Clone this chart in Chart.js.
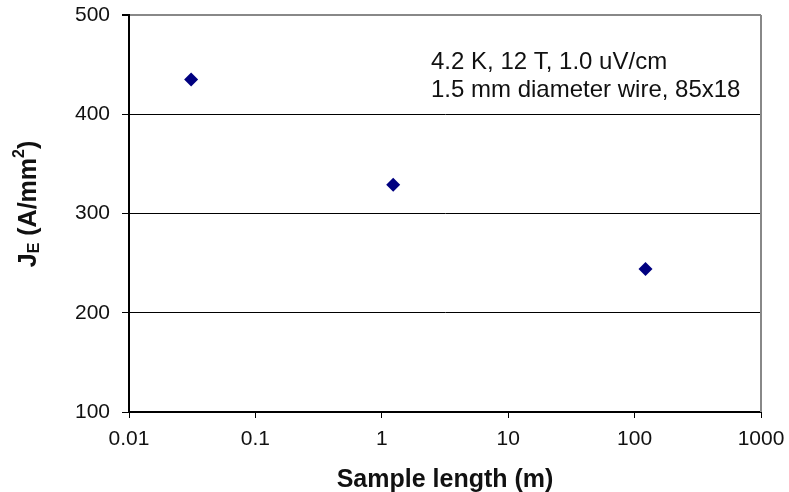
<!DOCTYPE html>
<html>
<head>
<meta charset="utf-8">
<script src="https://cdn.jsdelivr.net/npm/chart.js@4/dist/chart.umd.min.js"></script>
<style>
  html, body { margin: 0; padding: 0; background: #fff; }
  #wrap { width: 789px; height: 492px; }
</style>
</head>
<body>
<div id="wrap"><canvas id="chart" width="789" height="492"></canvas></div>
<script>
// sample length (m) vs engineering current density
const sampleLength = [0.031, 1.23, 122];
const jeValues = [435, 329, 244];

const xTicks = [0.01, 0.1, 1, 10, 100, 1000];
const yTicks = [100, 200, 300, 400, 500];

const noteLines = ['4.2 K, 12 T, 1.0 uV/cm', '1.5 mm diameter wire, 85x18'];
const xTitle = 'Sample length (m)';

const FONT = 'Liberation Sans, Arial, sans-serif';

// titles, note text and the grey right edge of the plot box
const extras = {
  id: 'extras',
  afterDraw(chart) {
    const { ctx, chartArea } = chart;
    ctx.save();

    // right border
    ctx.strokeStyle = '#888';
    ctx.lineWidth = 2;
    ctx.beginPath();
    ctx.moveTo(chartArea.right, chartArea.top);
    ctx.lineTo(chartArea.right, chartArea.bottom);
    ctx.stroke();

    // note in the top right
    ctx.fillStyle = '#111';
    ctx.font = '24px ' + FONT;
    ctx.textAlign = 'left';
    ctx.textBaseline = 'middle';
    ctx.fillText(noteLines[0], 431, 62);
    ctx.fillText(noteLines[1], 431, 90);

    // x axis title
    ctx.font = 'bold 25px ' + FONT;
    ctx.textAlign = 'center';
    ctx.fillText(xTitle, (chartArea.left + chartArea.right) / 2, 480);

    // y axis title with subscript E and superscript 2
    ctx.translate(29, 204);
    ctx.rotate(-Math.PI / 2);
    const parts = [
      { t: 'J', f: 'bold 25px ', dy: 0 },
      { t: 'E', f: 'bold 16px ', dy: 6 },
      { t: ' (A/mm', f: 'bold 25px ', dy: 0 },
      { t: '2', f: 'bold 16px ', dy: -9 },
      { t: ')', f: 'bold 25px ', dy: 0 }
    ];
    let total = 0;
    parts.forEach(p => { ctx.font = p.f + FONT; total += ctx.measureText(p.t).width; });
    let x = -total / 2;
    ctx.textAlign = 'left';
    parts.forEach(p => {
      ctx.font = p.f + FONT;
      ctx.fillText(p.t, x, p.dy);
      x += ctx.measureText(p.t).width;
    });
    ctx.restore();
  }
};

const ctx = document.getElementById('chart').getContext('2d');
new Chart(ctx, {
  type: 'scatter',
  data: {
    datasets: [{
      data: sampleLength.map((v, i) => ({ x: v, y: jeValues[i] })),
      pointStyle: 'rectRot',
      pointRadius: 7,
      pointBackgroundColor: '#000080',
      pointBorderColor: '#000080',
      pointBorderWidth: 0
    }]
  },
  options: {
    responsive: false,
    animation: false,
    layout: { padding: { top: 15, right: 28, left: 0, bottom: 0 } },
    plugins: { legend: { display: false }, tooltip: { enabled: false } },
    scales: {
      x: {
        type: 'logarithmic',
        min: 0.01,
        max: 1000,
        afterBuildTicks: s => { s.ticks = xTicks.map(v => ({ value: v })); },
        afterFit: s => { s.height = 80; s.paddingLeft = 0; s.paddingRight = 0; },
        border: { display: true, color: '#000', width: 2 },
        grid: { drawOnChartArea: false, drawTicks: true, tickLength: 6, color: '#000', tickWidth: 1 },
        ticks: {
          color: '#111',
          padding: 9,
          maxRotation: 0,
          autoSkip: false,
          font: { family: FONT, size: 21 },
          callback: v => String(v)
        }
      },
      y: {
        min: 100,
        max: 500,
        afterBuildTicks: s => { s.ticks = yTicks.map(v => ({ value: v })); },
        afterFit: s => { s.width = 129; s.paddingTop = 0; s.paddingBottom = 0; },
        border: { display: true, color: '#000', width: 2 },
        grid: {
          color: c => (c.tick && c.tick.value === 500 ? '#888' : '#000'),
          lineWidth: c => (c.tick && c.tick.value === 500 ? 2 : 1),
          tickLength: 7,
          tickColor: '#000'
        },
        ticks: {
          color: '#111',
          padding: 12,
          font: { family: FONT, size: 21 }
        }
      }
    }
  },
  plugins: [extras]
});
</script>
</body>
</html>
